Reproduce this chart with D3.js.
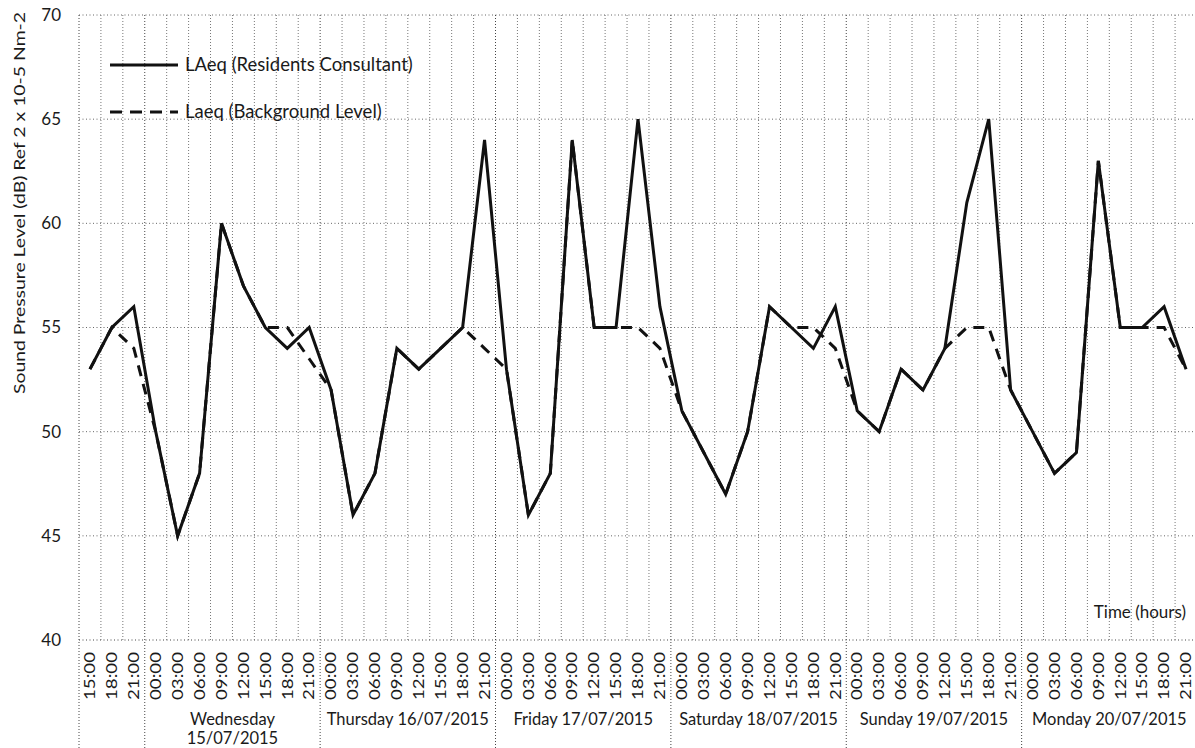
<!DOCTYPE html>
<html>
<head>
<meta charset="utf-8">
<script src="https://cdn.jsdelivr.net/npm/d3@7"></script>
<style>
  body { margin: 0; background: #fff; }
  text { font-family: Lato, "Open Sans", sans-serif; fill: #1a1a1a; }
</style>
</head>
<body>
<div class="noise-viz"></div>
<script>
// hours shown in each day group (first group is the Tuesday afternoon, unlabelled)
const firstDayHours = ["15:00", "18:00", "21:00"];
const fullDayHours = ["00:00", "03:00", "06:00", "09:00", "12:00", "15:00", "18:00", "21:00"];
const dayLabels = [
    [],
    ["Wednesday", "15/07/2015"],
    ["Thursday 16/07/2015"],
    ["Friday 17/07/2015"],
    ["Saturday 18/07/2015"],
    ["Sunday 19/07/2015"],
    ["Monday 20/07/2015"]
];

// LAeq (Residents Consultant)
const residents = [
    53, 55, 56,
    50, 45, 48, 60, 57, 55, 54, 55,
    52, 46, 48, 54, 53, 54, 55, 64,
    53, 46, 48, 64, 55, 55, 65, 56,
    51, 49, 47, 50, 56, 55, 54, 56,
    51, 50, 53, 52, 54, 61, 65, 52,
    50, 48, 49, 63, 55, 55, 56, 53
];
// Laeq (Background Level)
const background = [
    53, 55, 54,
    50, 45, 48, 60, 57, 55, 55, 53.5,
    52, 46, 48, 54, 53, 54, 55, 54,
    53, 46, 48, 64, 55, 55, 55, 54,
    51, 49, 47, 50, 56, 55, 55, 54,
    51, 50, 53, 52, 54, 55, 55, 52,
    50, 48, 49, 63, 55, 55, 55, 53
];
const yTicks = [40, 45, 50, 55, 60, 65, 70];

const W = 1195, H = 748;
const plot = {left: 79, right: 1197, top: 15, bottom: 640};

const svg = d3.select(".noise-viz")
  .append("svg")
    .attr("width", W)
    .attr("height", H);

// build the category list from the day groups
const groups = [firstDayHours].concat(dayLabels.slice(1).map(() => fullDayHours));
const cats = [];
groups.forEach((hrs, g) => hrs.forEach(h => cats.push({key: g + "|" + h, hour: h, group: g})));

const x = d3.scaleBand()
    .domain(cats.map(d => d.key))
    .range([plot.left, plot.right])
    .padding(0);

const y = d3.scaleLinear()
    .domain([40, 70])
    .range([plot.bottom, plot.top]);

// horizontal grid
svg.append("g")
  .selectAll("line")
  .data(yTicks)
  .join("line")
    .attr("x1", plot.left)
    .attr("x2", plot.right)
    .attr("y1", d => y(d))
    .attr("y2", d => y(d))
    .attr("stroke", d => d === 40 ? "#444" : "#666")
    .attr("stroke-width", 1)
    .attr("stroke-dasharray", "1,2.5");

// vertical grid at every category boundary, day boundaries run down through the labels
const bounds = cats.map((d, i) => ({pos: x(d.key), dayStart: i === 0 || cats[i - 1].group !== d.group}));
bounds.push({pos: plot.right, dayStart: true});
svg.append("g")
  .selectAll("line")
  .data(bounds)
  .join("line")
    .attr("x1", d => d.pos)
    .attr("x2", d => d.pos)
    .attr("y1", plot.top)
    .attr("y2", d => d.dayStart ? H : plot.bottom)
    .attr("stroke", d => d.dayStart ? "#444" : "#777")
    .attr("stroke-width", 1)
    .attr("stroke-dasharray", "1,2");

// y tick labels
svg.append("g")
  .selectAll("text")
  .data(yTicks)
  .join("text")
    .attr("x", 61)
    .attr("y", d => y(d))
    .attr("dy", "0.35em")
    .attr("text-anchor", "end")
    .style("font-size", "17px")
    .text(d => d);

// y label
svg.append("text")
    .attr("transform", "translate(25,203) rotate(-90)")
    .attr("text-anchor", "middle")
    .attr("textLength", 382)
    .attr("lengthAdjust", "spacingAndGlyphs")
    .style("font-size", "16px")
    .text("Sound Pressure Level (dB) Ref 2 x 10-5 Nm-2");

// hour labels, rotated
svg.append("g")
  .selectAll("text")
  .data(cats)
  .join("text")
    .attr("transform", d => `translate(${x(d.key) + x.bandwidth() / 2},652) rotate(-90)`)
    .attr("text-anchor", "end")
    .attr("dy", "0.35em")
    .attr("textLength", 48)
    .attr("lengthAdjust", "spacingAndGlyphs")
    .style("font-size", "15px")
    .text(d => d.hour);

// day labels
dayLabels.forEach((lines, g) => {
    const inGroup = cats.filter(d => d.group === g);
    if (!lines.length) return;
    const cx = (x(inGroup[0].key) + x(inGroup[inGroup.length - 1].key) + x.bandwidth()) / 2;
    const t = svg.append("text")
        .attr("x", cx)
        .attr("y", 725)
        .attr("text-anchor", "middle")
        .style("font-size", "16.5px");
    lines.forEach((l, k) => {
        t.append("tspan").attr("x", cx).attr("dy", k === 0 ? 0 : 19).text(l);
    });
});

svg.append("text")
    .attr("x", 1186)
    .attr("y", 618)
    .attr("text-anchor", "end")
    .style("font-size", "17px")
    .text("Time (hours)");

// lines
const line = d3.line()
    .x((d, i) => x(cats[i].key) + x.bandwidth() / 2)
    .y(d => y(d));

svg.append("path")
    .datum(background)
    .attr("fill", "none")
    .attr("stroke", "#111")
    .attr("stroke-width", 3)
    .attr("stroke-dasharray", "11,8")
    .attr("d", line);

svg.append("path")
    .datum(residents)
    .attr("fill", "none")
    .attr("stroke", "#111")
    .attr("stroke-width", 3)
    .attr("stroke-linejoin", "miter")
    .attr("d", line);

// legend
const legend = [
    {label: "LAeq (Residents Consultant)", dash: null, y: 65},
    {label: "Laeq (Background Level)", dash: "12,8", y: 112}
];
const lg = svg.append("g")
  .selectAll("g")
  .data(legend)
  .join("g");
lg.append("line")
    .attr("x1", 110)
    .attr("x2", 178)
    .attr("y1", d => d.y)
    .attr("y2", d => d.y)
    .attr("stroke", "#111")
    .attr("stroke-width", 3)
    .attr("stroke-dasharray", d => d.dash);
lg.append("text")
    .attr("x", 185)
    .attr("y", d => d.y)
    .attr("dy", "0.35em")
    .style("font-size", "18.5px")
    .text(d => d.label);
</script>
</body>
</html>
